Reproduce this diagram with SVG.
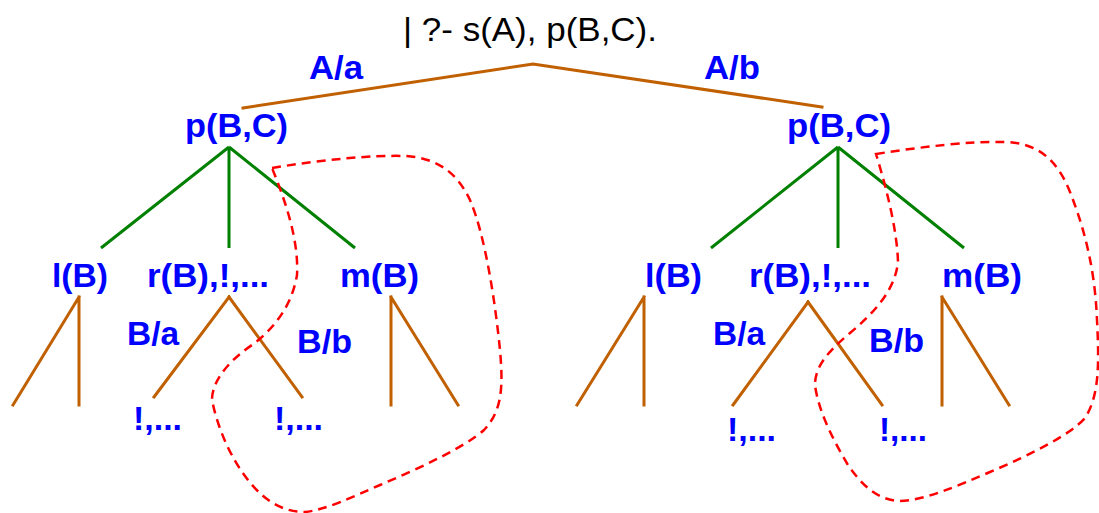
<svg xmlns="http://www.w3.org/2000/svg" width="1099" height="513" viewBox="0 0 1099 513">
<style>
.t{font-family:"Liberation Sans",Arial,sans-serif;font-size:33px;fill:#000}
.b{font-family:"Liberation Sans",Arial,sans-serif;font-size:33px;font-weight:bold;fill:#0000FF}
.br{stroke:#C06000;stroke-width:3;fill:none;stroke-linecap:square}
.gr{stroke:#008000;stroke-width:3;fill:none}
.cut{stroke:#FF0000;stroke-width:2.5;fill:none;stroke-dasharray:9,6}
</style>
<rect width="1099" height="513" fill="#fff"/>
<g id="connectors">
<polyline class="br" points="243,108 533,64 822,107"/>
<path class="gr" d="M229,147 L101,248 M229,147 L229,248 M229,147 L355,248"/>
<path class="gr" d="M838,147 L711,248 M838,147 L838,248 M838,147 L964,248"/>
<path class="br" d="M79,297 L13,405 M79,297 L79,405"/>
<path class="br" d="M229,297 L154,397 M229,297 L302,397"/>
<path class="br" d="M391,297 L391,405 M391,297 L458,405"/>
<path class="br" d="M644,297 L577,405 M644,297 L644,405"/>
<path class="br" d="M808,302 L733,405 M808,302 L882,405"/>
<path class="br" d="M942,297 L942,405 M942,297 L1009,405"/>
</g>
<g id="cut-left">
<path class="cut" d="M272,168 C320,160 370,155 405,156 C440,158 458,175 470,200 C485,235 495,300 500,350 C503,385 503,410 484,430 C465,447 420,468 380,485 C350,498 325,510 305,512 C280,512 262,498 248,480 C232,460 218,430 212,400 C212,380 230,360 252,345 C275,328 292,305 297,275 C299,240 285,200 272,168 Z"/>
</g>
<g id="cut-right">
<path class="cut" d="M876,154 C920,147 970,141 1005,142 C1040,143 1058,162 1070,192 C1085,230 1095,270 1097,320 C1099,360 1100,395 1085,418 C1070,435 1030,455 990,472 C955,487 925,500 900,501 C875,500 860,482 848,465 C833,440 818,410 815,385 C815,365 830,350 850,333 C875,312 895,290 898,262 C897,230 887,190 876,154 Z"/>
</g>
<g id="query"><text class="t" x="403" y="41" textLength="254" lengthAdjust="spacingAndGlyphs">| ?- s(A), p(B,C).</text></g>
<g id="label-Aa"><text class="b" x="309" y="79" textLength="54" lengthAdjust="spacingAndGlyphs">A/a</text></g>
<g id="label-Ab"><text class="b" x="704" y="79" textLength="56" lengthAdjust="spacingAndGlyphs">A/b</text></g>
<g id="p-left"><text class="b" x="185" y="137" textLength="103" lengthAdjust="spacingAndGlyphs">p(B,C)</text></g>
<g id="p-right"><text class="b" x="787" y="137" textLength="104" lengthAdjust="spacingAndGlyphs">p(B,C)</text></g>
<g id="l-left"><text class="b" x="52" y="287" textLength="56" lengthAdjust="spacingAndGlyphs">l(B)</text></g>
<g id="r-left"><text class="b" x="147" y="287" textLength="122" lengthAdjust="spacingAndGlyphs">r(B),!,...</text></g>
<g id="m-left"><text class="b" x="340" y="287" textLength="79" lengthAdjust="spacingAndGlyphs">m(B)</text></g>
<g id="l-right"><text class="b" x="645" y="287" textLength="57" lengthAdjust="spacingAndGlyphs">l(B)</text></g>
<g id="r-right"><text class="b" x="749" y="287" textLength="122" lengthAdjust="spacingAndGlyphs">r(B),!,...</text></g>
<g id="m-right"><text class="b" x="942" y="287" textLength="80" lengthAdjust="spacingAndGlyphs">m(B)</text></g>
<g id="Ba-left"><text class="b" x="127" y="345" textLength="52" lengthAdjust="spacingAndGlyphs">B/a</text></g>
<g id="Bb-left"><text class="b" x="297" y="353" textLength="55" lengthAdjust="spacingAndGlyphs">B/b</text></g>
<g id="Ba-right"><text class="b" x="713" y="345" textLength="52" lengthAdjust="spacingAndGlyphs">B/a</text></g>
<g id="Bb-right"><text class="b" x="869" y="352" textLength="55" lengthAdjust="spacingAndGlyphs">B/b</text></g>
<g id="cut1-left"><text class="b" x="133" y="430" textLength="49" lengthAdjust="spacingAndGlyphs">!,...</text></g>
<g id="cut2-left"><text class="b" x="274" y="430" textLength="49" lengthAdjust="spacingAndGlyphs">!,...</text></g>
<g id="cut1-right"><text class="b" x="727" y="441" textLength="49" lengthAdjust="spacingAndGlyphs">!,...</text></g>
<g id="cut2-right"><text class="b" x="879" y="441" textLength="48" lengthAdjust="spacingAndGlyphs">!,...</text></g>
</svg>
